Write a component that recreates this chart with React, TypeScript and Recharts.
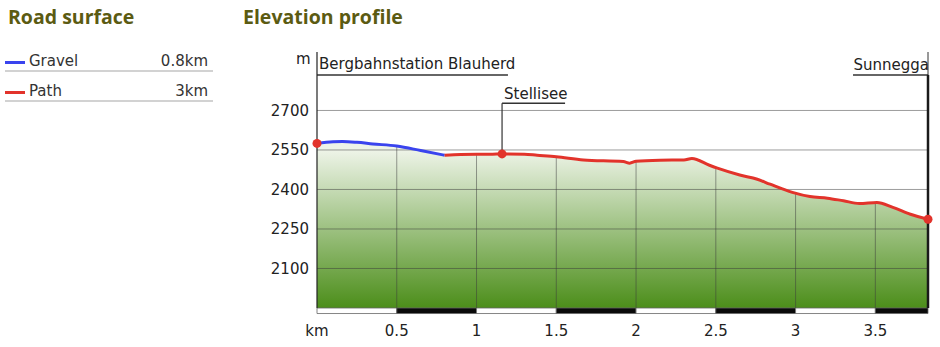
import React from "react";
import {
  ComposedChart,
  Area,
  Line,
  XAxis,
  YAxis,
  ReferenceLine,
  ReferenceArea,
  ReferenceDot,
} from "recharts";

// elevation profile (km, metres)
const gravelKm = [0, 0.1, 0.16, 0.25, 0.35, 0.5, 0.65, 0.8];
const gravelElev = [2575, 2581, 2582, 2579, 2573, 2565, 2548, 2530];
const pathKm = [
  0.8, 0.9, 1.1, 1.16, 1.3, 1.38, 1.5, 1.67, 1.92, 1.96, 2.0, 2.15, 2.3, 2.35,
  2.46, 2.51, 2.65, 2.76, 2.84, 2.98, 3.09, 3.2, 3.3, 3.4, 3.51, 3.61, 3.72, 3.83,
];
const pathElev = [
  2530, 2533, 2534, 2535, 2534, 2530, 2524, 2512, 2506, 2500, 2507, 2511, 2512,
  2518, 2492, 2481, 2455, 2439, 2420, 2389, 2373, 2367, 2357, 2347, 2351, 2332,
  2306, 2287,
];

const xTicks = [0, 0.5, 1, 1.5, 2, 2.5, 3, 3.5];
const yTicks = [2100, 2250, 2400, 2550, 2700];
const totalKm = 3.83;

const waypointNames = ["Bergbahnstation Blauherd", "Stellisee", "Sunnegga"];
const waypointKm = [0, 1.16, 3.83];

const surfaceNames = ["Gravel", "Path"];
const surfaceLengths = ["0.8km", "3km"];
const surfaceColors = ["#3a44ee", "#e2332b"];

const Y_MIN = 1950;
const Y_MAX = 2922;

type Row = { km: number; elev: number; gravel?: number; path?: number };

const rows: Row[] = [];
gravelKm.forEach((km, i) => {
  rows.push({ km, elev: gravelElev[i], gravel: gravelElev[i] });
});
pathKm.forEach((km, i) => {
  const last = rows[rows.length - 1];
  if (last.km === km) {
    last.path = pathElev[i];
  } else {
    rows.push({ km, elev: pathElev[i], path: pathElev[i] });
  }
});

function elevAt(km: number) {
  for (let i = 1; i < rows.length; i++) {
    const a = rows[i - 1];
    const b = rows[i];
    if (km >= a.km && km <= b.km) {
      const t = b.km === a.km ? 0 : (km - a.km) / (b.km - a.km);
      return a.elev + (b.elev - a.elev) * t;
    }
  }
  return rows[rows.length - 1].elev;
}

const FONT = "'DejaVu Sans', sans-serif";
const TITLE_FONT = "'Open Sans', sans-serif";
const labelStyle = { fontFamily: FONT, fontSize: 15, fill: "#222" };

const gridStroke = "rgba(60,60,60,0.5)";
const markStroke = "#333";

// underline heights (m) for the waypoint labels
const topFlagElev = 2835;
const midFlagElev = 2727;

function flagLabel(text: string, align: "start" | "end", dy: number) {
  return (props: any) => {
    const vb = props.viewBox || {};
    const x = align === "start" ? vb.x + 2 : vb.x + vb.width + 1;
    return (
      <text x={x} y={vb.y - dy} textAnchor={align} style={labelStyle}>
        {text}
      </text>
    );
  };
}

const titleStyle: React.CSSProperties = {
  position: "absolute",
  top: 3,
  fontFamily: TITLE_FONT,
  fontWeight: 700,
  fontSize: 19.5,
  color: "#5b5b12",
  whiteSpace: "nowrap",
};

function Legend() {
  return (
    <div style={{ position: "absolute", left: 0, top: 0, width: 230 }}>
      <div style={{ ...titleStyle, left: 8 }}>Road surface</div>
      {surfaceNames.map((name, i) => (
        <div
          key={name}
          style={{
            position: "absolute",
            left: 5,
            top: 53 + i * 30,
            width: 208,
            height: 17,
            borderBottom: "2px solid #d2d2d2",
            fontFamily: FONT,
            fontSize: 15,
            color: "#333",
          }}
        >
          <span
            style={{
              position: "absolute",
              left: 0,
              top: 8,
              width: 20,
              height: 3,
              background: surfaceColors[i],
            }}
          />
          <span style={{ position: "absolute", left: 24, top: 1, lineHeight: "15px" }}>{name}</span>
          <span style={{ position: "absolute", right: 5, top: 1, lineHeight: "15px" }}>
            {surfaceLengths[i]}
          </span>
        </div>
      ))}
    </div>
  );
}

export default function App() {
  const flagBottoms = waypointKm.map((km) => elevAt(km));
  return (
    <div style={{ position: "absolute", left: 0, top: 0, width: 940, height: 347, background: "#fff" }}>
      <Legend />
      <div style={{ ...titleStyle, left: 243 }}>Elevation profile</div>
      <div
        style={{
          position: "absolute",
          left: 296,
          top: 52,
          fontFamily: FONT,
          fontSize: 15,
          lineHeight: "15px",
          color: "#222",
        }}
      >
        m
      </div>
      <div style={{ position: "absolute", left: 0, top: 0 }}>
        <ComposedChart
          width={940}
          height={347}
          data={rows}
          margin={{ top: 52, right: 12, bottom: 0, left: 257 }}
        >
          <defs>
            <linearGradient id="elevFill" gradientUnits="userSpaceOnUse" x1="0" y1="150" x2="0" y2="308">
              <stop offset="0%" stopColor="#eef4e8" />
              <stop offset="100%" stopColor="#4c8e1a" />
            </linearGradient>
          </defs>
          <XAxis
            dataKey="km"
            type="number"
            domain={[0, totalKm]}
            ticks={xTicks}
            interval={0}
            allowDataOverflow
            tickFormatter={(v: number) => (v === 0 ? "km" : String(v))}
            axisLine={false}
            tickLine={false}
            tickSize={0}
            tickMargin={17}
            height={39}
            tick={labelStyle}
          />
          <YAxis
            type="number"
            domain={[Y_MIN, Y_MAX]}
            ticks={yTicks}
            interval={0}
            allowDataOverflow
            axisLine={{ stroke: "#222", strokeWidth: 1.2 }}
            tickLine={false}
            tickSize={0}
            tickMargin={8}
            width={60}
            tick={labelStyle}
          />
          <Area
            dataKey="elev"
            type="monotone"
            fill="url(#elevFill)"
            fillOpacity={1}
            stroke="none"
            isAnimationActive={false}
          />
          {yTicks.map((t) => (
            <ReferenceLine key={`h${t}`} y={t} stroke={gridStroke} strokeWidth={1} />
          ))}
          {xTicks.slice(1).map((t) => (
            <ReferenceLine
              key={`v${t}`}
              segment={[
                { x: t, y: Y_MIN },
                { x: t, y: elevAt(t) },
              ]}
              stroke={gridStroke}
              strokeWidth={1}
            />
          ))}
          {xTicks.map((t, i) => (
            <ReferenceArea
              key={`s${t}`}
              x1={t}
              x2={i < xTicks.length - 1 ? xTicks[i + 1] : totalKm}
              y1={1929}
              y2={Y_MIN}
              ifOverflow="visible"
              fill={i % 2 === 0 ? "#ffffff" : "#0a0a0a"}
              fillOpacity={1}
              stroke="#666"
              strokeWidth={0.8}
            />
          ))}
          {/* waypoint flags */}
          <ReferenceLine
            segment={[
              { x: waypointKm[0], y: topFlagElev },
              { x: 1.197, y: topFlagElev },
            ]}
            stroke={markStroke}
            strokeWidth={1.5}
            label={flagLabel(waypointNames[0], "start", 6)}
          />
          <ReferenceLine
            segment={[
              { x: waypointKm[1], y: midFlagElev },
              { x: 1.555, y: midFlagElev },
            ]}
            stroke={markStroke}
            strokeWidth={1.5}
            label={flagLabel(waypointNames[1], "start", 4)}
          />
          <ReferenceLine
            segment={[
              { x: waypointKm[1], y: midFlagElev },
              { x: waypointKm[1], y: flagBottoms[1] },
            ]}
            stroke={markStroke}
            strokeWidth={1.2}
          />
          <ReferenceLine x={waypointKm[2]} stroke={markStroke} strokeWidth={1} />
          <ReferenceLine
            segment={[
              { x: 3.36, y: topFlagElev },
              { x: waypointKm[2], y: topFlagElev },
            ]}
            stroke={markStroke}
            strokeWidth={1.5}
            label={flagLabel(waypointNames[2], "end", 5)}
          />
          <ReferenceLine
            segment={[
              { x: waypointKm[2], y: Y_MIN },
              { x: waypointKm[2], y: topFlagElev },
            ]}
            stroke="#1a1a1a"
            strokeWidth={2.5}
          />
          <Line
            dataKey="gravel"
            type="monotone"
            stroke={surfaceColors[0]}
            strokeWidth={3}
            dot={false}
            connectNulls={false}
            isAnimationActive={false}
          />
          <Line
            dataKey="path"
            type="monotone"
            stroke={surfaceColors[1]}
            strokeWidth={3}
            dot={false}
            connectNulls={false}
            isAnimationActive={false}
          />
          {waypointKm.map((km, i) => (
            <ReferenceDot
              key={`d${i}`}
              x={km}
              y={flagBottoms[i]}
              r={4.5}
              fill="#e2332b"
              stroke="none"
              ifOverflow="visible"
            />
          ))}
        </ComposedChart>
      </div>
    </div>
  );
}
